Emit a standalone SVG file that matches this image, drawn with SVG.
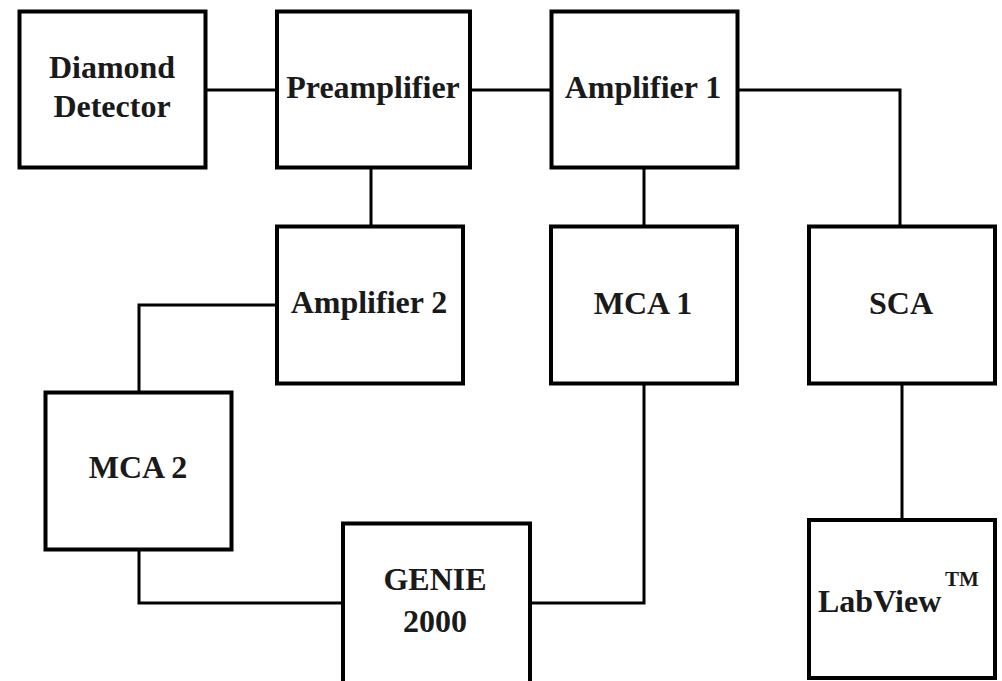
<svg xmlns="http://www.w3.org/2000/svg" width="1002" height="681" viewBox="0 0 1002 681">
<style>
.box{fill:#fff;stroke:#000;stroke-width:4}
.wire{fill:none;stroke:#000;stroke-width:3}
.lbl{font-family:"Liberation Serif","Times New Roman",serif;font-weight:bold;font-size:32px;fill:#1a1a1a;text-anchor:middle}
.tm{font-family:"Liberation Serif","Times New Roman",serif;font-weight:bold;font-size:21px;fill:#1a1a1a}
</style>
<rect width="1002" height="681" fill="#fff"/>
<g id="connectors">
<line class="wire" x1="206" y1="90" x2="277" y2="90"/>
<line class="wire" x1="470" y1="90" x2="551" y2="90"/>
<polyline class="wire" points="738,90 900,90 900,226"/>
<line class="wire" x1="371" y1="168" x2="371" y2="226"/>
<line class="wire" x1="644" y1="168" x2="644" y2="226"/>
<polyline class="wire" points="277,305 139,305 139,392"/>
<polyline class="wire" points="139,550 139,603 343,603"/>
<polyline class="wire" points="530,603 644,603 644,384"/>
<line class="wire" x1="902" y1="384" x2="902" y2="519"/>
</g>
<g id="diamond-detector">
<rect class="box" x="19.5" y="11.5" width="186" height="156"/>
<text class="lbl" x="112" y="78">Diamond</text>
<text class="lbl" x="112" y="117">Detector</text>
</g>
<g id="preamplifier">
<rect class="box" x="277" y="11.5" width="193" height="156"/>
<text class="lbl" x="373" y="98">Preamplifier</text>
</g>
<g id="amplifier-1">
<rect class="box" x="551.5" y="11.5" width="186" height="156"/>
<text class="lbl" x="643" y="98">Amplifier 1</text>
</g>
<g id="amplifier-2">
<rect class="box" x="277" y="226.5" width="186" height="157"/>
<text class="lbl" x="369" y="313">Amplifier 2</text>
</g>
<g id="mca-1">
<rect class="box" x="551" y="226.5" width="186" height="157"/>
<text class="lbl" x="643" y="314">MCA 1</text>
</g>
<g id="sca">
<rect class="box" x="809" y="226.5" width="186" height="157"/>
<text class="lbl" x="901" y="314">SCA</text>
</g>
<g id="mca-2">
<rect class="box" x="45.5" y="392.5" width="186" height="157"/>
<text class="lbl" x="138" y="478">MCA 2</text>
</g>
<g id="genie-2000">
<rect class="box" x="343" y="523.5" width="187" height="162"/>
<text class="lbl" x="435" y="590">GENIE</text>
<text class="lbl" x="435" y="632">2000</text>
</g>
<g id="labview">
<rect class="box" x="809" y="520" width="186" height="158"/>
<text class="lbl" x="818" y="612" style="text-anchor:start">LabView</text>
<text class="tm" x="945" y="586">TM</text>
</g>
</svg>
